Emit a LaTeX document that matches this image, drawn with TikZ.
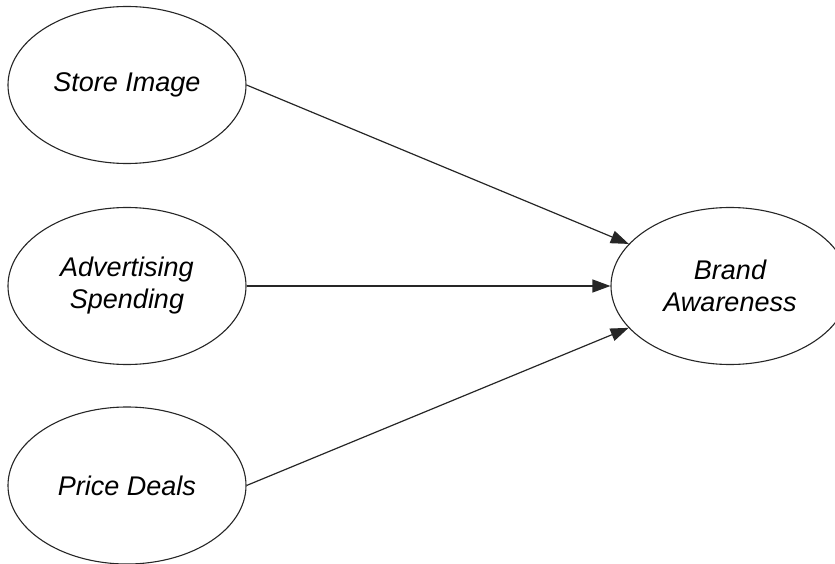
\documentclass[tikz,border=0pt]{standalone}
\usepackage{fontspec}
\setmainfont{Liberation Sans}
\usetikzlibrary{shapes.geometric,arrows.meta}
\begin{document}
\begin{tikzpicture}[x=1pt,y=-1pt,
  latent/.style={draw=black!85, line width=1.1pt, ellipse, minimum width=238pt, minimum height=157pt, inner sep=0pt,
     align=center, font=\fontsize{27}{32}\selectfont\itshape},
  path/.style={draw=black!85, line width=1.2pt, -{Triangle[length=18pt,width=13pt]}}]
\useasboundingbox (0,0) rectangle (835,564);
\clip (0,0) rectangle (835,564);
\node[latent] (si) at (127,85) {Store Image};
\node[latent] (as) at (127,286) {Advertising\\Spending};
\node[latent] (pd) at (127,485.5) {Price Deals};
\node[latent] (ba) at (730,286) {Brand\\Awareness};
\draw[path] (si.east) -- (ba);
\draw[path] (as) -- (ba);
\draw[path] (pd.east) -- (ba);
\end{tikzpicture}
\end{document}
